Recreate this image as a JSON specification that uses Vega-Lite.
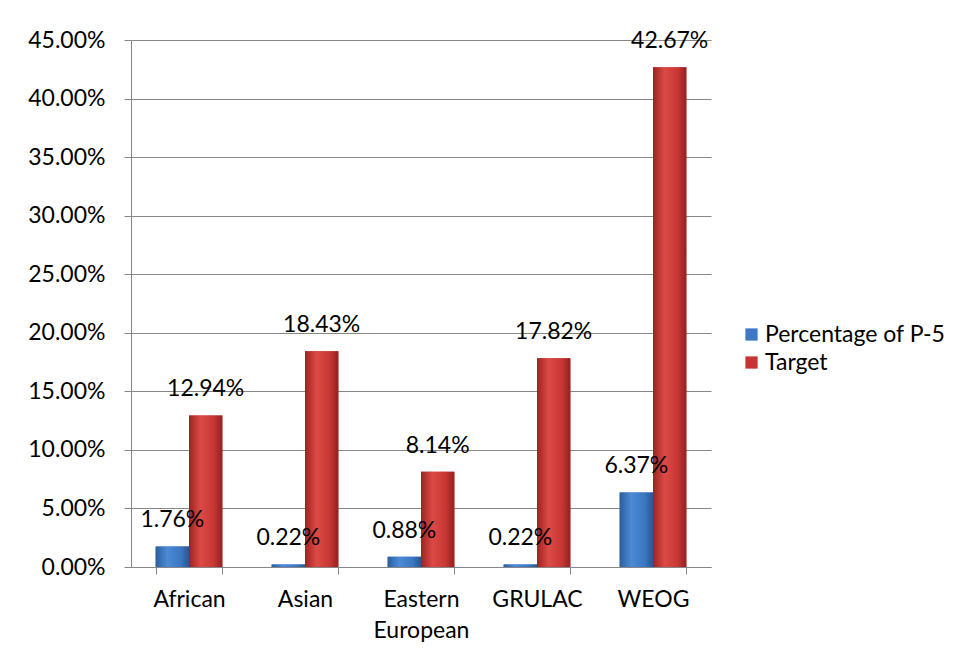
{
  "$schema": "https://vega.github.io/schema/vega-lite/v6.json",
  "autosize": {"type": "none"},
  "width": 580,
  "height": 527,
  "padding": {"left": 131, "top": 40, "right": 267, "bottom": 93},
  "background": "white",
  "config": {
    "font": "Lato",
    "view": {"stroke": null},
    "axis": {
      "labelFont": "Lato",
      "labelFontSize": 23,
      "labelColor": "#000000",
      "domainColor": "#868686",
      "tickColor": "#868686",
      "gridColor": "#868686",
      "titleFontSize": 0
    },
    "legend": {
      "labelFont": "Lato",
      "labelFontSize": 23,
      "labelColor": "#000000",
      "labelLimit": 0
    }
  },
  "data": {
    "values": [
      {"group": "African", "series": "Percentage of P-5", "value": 0.0176},
      {"group": "African", "series": "Target", "value": 0.1294},
      {"group": "Asian", "series": "Percentage of P-5", "value": 0.0022},
      {"group": "Asian", "series": "Target", "value": 0.1843},
      {"group": "Eastern European", "series": "Percentage of P-5", "value": 0.0088},
      {"group": "Eastern European", "series": "Target", "value": 0.0814},
      {"group": "GRULAC", "series": "Percentage of P-5", "value": 0.0022},
      {"group": "GRULAC", "series": "Target", "value": 0.1782},
      {"group": "WEOG", "series": "Percentage of P-5", "value": 0.0637},
      {"group": "WEOG", "series": "Target", "value": 0.4267}
    ]
  },
  "encoding": {
    "x": {
      "field": "group",
      "type": "nominal",
      "sort": null,
      "title": null,
      "scale": {"paddingInner": 0.425, "paddingOuter": 0.2125},
      "axis": {
        "labelAngle": 0,
        "tickBand": "extent",
        "tickSize": 7,
        "labelPadding": 14,
        "labelLineHeight": 31,
        "labelExpr": "datum.label == 'Eastern European' ? ['Eastern', 'European'] : datum.label"
      }
    },
    "xOffset": {
      "field": "series",
      "type": "nominal",
      "sort": ["Percentage of P-5", "Target"],
      "scale": {"paddingInner": 0, "paddingOuter": 0}
    },
    "y": {
      "field": "value",
      "type": "quantitative",
      "title": null,
      "scale": {"domain": [0, 0.45], "nice": false},
      "axis": {
        "values": [0, 0.05, 0.1, 0.15, 0.2, 0.25, 0.3, 0.35, 0.4, 0.45],
        "format": ".2%",
        "grid": true,
        "tickSize": 7,
        "labelPadding": 19
      }
    }
  },
  "layer": [
    {
      "mark": {"type": "bar"},
      "encoding": {
        "color": {
          "field": "series",
          "type": "nominal",
          "sort": ["Percentage of P-5", "Target"],
          "scale": {"domain": ["Percentage of P-5", "Target"], "range": ["#3c78c4", "#c83432"]},
          "legend": {
            "title": null,
            "orient": "none",
            "legendX": 609,
            "legendY": 283,
            "symbolType": "square",
            "symbolSize": 150,
            "symbolStrokeWidth": 0,
            "symbolOpacity": 1,
            "rowPadding": 4,
            "labelOffset": 2
          }
        }
      }
    },
    {
      "transform": [{"filter": "datum.series == 'Percentage of P-5'"}],
      "mark": {
        "type": "bar",
        "color": {
          "gradient": "linear",
          "x1": 0, "y1": 0, "x2": 1, "y2": 0,
          "stops": [
            {"offset": 0, "color": "#2c5e9e"},
            {"offset": 0.35, "color": "#4a8ad6"},
            {"offset": 0.75, "color": "#3c76c0"},
            {"offset": 1, "color": "#2a5690"}
          ]
        }
      }
    },
    {
      "transform": [{"filter": "datum.series == 'Target'"}],
      "mark": {
        "type": "bar",
        "color": {
          "gradient": "linear",
          "x1": 0, "y1": 0, "x2": 1, "y2": 0,
          "stops": [
            {"offset": 0, "color": "#9a2422"},
            {"offset": 0.35, "color": "#dc4a46"},
            {"offset": 0.75, "color": "#c63632"},
            {"offset": 1, "color": "#922020"}
          ]
        }
      }
    },
    {
      "mark": {
        "type": "text",
        "baseline": "middle",
        "align": "center",
        "dy": -26,
        "font": "Lato",
        "fontSize": 23,
        "color": "#000000"
      },
      "encoding": {
        "text": {"field": "value", "type": "quantitative", "format": ".2%"}
      }
    }
  ]
}
